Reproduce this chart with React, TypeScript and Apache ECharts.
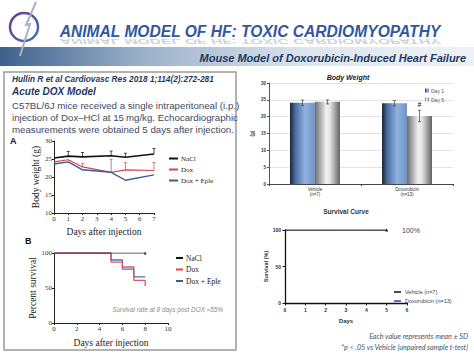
import React, { useEffect, useRef } from "react";
import * as echarts from "echarts";

// Panel A – body weight after injection
const weightDays = [0, 1, 2, 4, 5, 7];
const naclWeight = [25.3, 25.8, 25.6, 25.9, 25.5, 26.4];
const naclWeightErr = [0, 1.3, 1.2, 1.3, 1.1, 1.5];
const doxWeight = [24.2, 24.8, 22.8, 21.3, 22.0, 21.8];
const doxWeightErr = [0, 0, 0.9, 3.6, 2.0, 2.2];
const eplWeight = [23.6, 24.2, 22.0, 21.3, 19.1, 20.6];

// Panel B – percent survival
const survDays = [0, 5, 6, 7, 8];
const naclSurvDays = [0, 8];
const naclSurv = [100, 100];
const doxSurv = [100, 87, 80, 61, 53];
const eplSurv = [100, 90, 77, 66, 66];

// Body weight bar chart
const bwGroups = ["Vehicle\n(n=7)", "Doxorubicin\n(n=13)"];
const bwDay1 = [24.1, 24.0];
const bwDay1Err = [0.8, 0.8];
const bwDay5 = [24.4, 20.2];
const bwDay5Err = [0.6, 1.7];
const bwDay5Sig = ["", "#"];

// Survival curve
const curveDays = [0, 5];
const vehicleSurv = [100, 100];
const doxoSurv = [100, 100];

const legendA = ["NaCl", "Dox", "Dox + Eple"];
const legendBar = ["Day 1", "Day 5"];
const legendCurve = ["Vehicle (n=7)", "Doxorubicin (n=13)"];

const SERIF = "Liberation Serif";
const SANS = "Liberation Sans";
const BAR_W = 25;
const NAVY = "#1f3864";
const TITLE = "ANIMAL MODEL OF HF: TOXIC CARDIOMYOPATHY";

function zip(xs: number[], ys: number[]) {
  return xs.map((x, i) => [x, ys[i]]);
}

function errRenderer(color: string, upOnly: boolean, offset: number, marks?: string[]) {
  return (params: any, api: any) => {
    const x = api.value(0);
    const y = api.value(1);
    const e = api.value(2);
    if (!e) return null;
    const top = api.coord([x, y + e]);
    const bot = api.coord([x, upOnly ? y : y - e]);
    const dx = offset;
    const children: any[] = [
      { type: "line", shape: { x1: top[0] + dx, y1: top[1], x2: bot[0] + dx, y2: bot[1] }, style: { stroke: color, lineWidth: 0.8 } },
      { type: "line", shape: { x1: top[0] + dx - 1.5, y1: top[1], x2: top[0] + dx + 1.5, y2: top[1] }, style: { stroke: color, lineWidth: 0.8 } },
    ];
    if (!upOnly) {
      children.push({ type: "line", shape: { x1: bot[0] + dx - 1.5, y1: bot[1], x2: bot[0] + dx + 1.5, y2: bot[1] }, style: { stroke: color, lineWidth: 0.8 } });
    }
    const m = marks ? marks[params.dataIndex] : "";
    if (m) {
      children.push({
        type: "text",
        style: { text: m, x: top[0] + dx, y: top[1] - 2, textAlign: "center", textVerticalAlign: "bottom", fontSize: 7, fontWeight: "bold", fill: "#333", fontFamily: SANS },
      });
    }
    return { type: "group", children };
  };
}

export default function App() {
  const ref = useRef<HTMLDivElement>(null);
  useEffect(() => {
    if (!ref.current) return;
    const chart = echarts.init(ref.current, undefined, { renderer: "svg" });

    const blueBar = new echarts.graphic.LinearGradient(0, 0, 1, 0, [
      { offset: 0, color: "#1a2638" },
      { offset: 0.22, color: "#4b6fa3" },
      { offset: 0.6, color: "#8fb2e0" },
      { offset: 1, color: "#6f93c5" },
    ]);
    const grayBar = new echarts.graphic.LinearGradient(0, 0, 1, 0, [
      { offset: 0, color: "#6d6d6d" },
      { offset: 0.45, color: "#f2f2f2" },
      { offset: 0.6, color: "#e4e4e4" },
      { offset: 1, color: "#646464" },
    ]);

    const smallAxis = (extra: any = {}) => ({
      axisLine: { show: true, lineStyle: { color: "#222", width: 1 } },
      axisTick: { show: true, length: 2, lineStyle: { color: "#222" } },
      splitLine: { show: false },
      ...extra,
    });

    const g = (left: number, top: number, width: number, height: number) => ({
      left,
      top,
      width,
      height,
      containLabel: false,
    });

    const option: any = {
      animation: false,
      backgroundColor: "#ffffff",
      graphic: [
        // header band
        {
          type: "rect",
          shape: { x: 0, y: 47, width: 474, height: 19 },
          style: {
            fill: new echarts.graphic.LinearGradient(0, 0, 1, 0, [
              { offset: 0, color: "#3d618d" },
              { offset: 0.3, color: "#9bb1ca" },
              { offset: 0.65, color: "#dde5ee" },
              { offset: 1, color: "#eef2f6" },
            ]),
          },
          z: -10,
        },
        // logo
        {
          type: "ellipse",
          shape: { cx: 24, cy: 27, rx: 14, ry: 14 },
          style: {
            fill: "none",
            lineWidth: 2.5,
            stroke: new echarts.graphic.LinearGradient(0, 0, 1, 1, [
              { offset: 0, color: "#6a3a8f" },
              { offset: 1, color: "#3f74c2" },
            ]),
          },
        },
        {
          type: "polyline",
          shape: { points: [[36, 2], [26, 25], [30, 24], [20, 56]] },
          style: { stroke: "#a9b3bd", lineWidth: 2, fill: "none" },
        },
        // title + reflection
        {
          type: "text",
          x: 250,
          y: 31,
          style: {
            text: TITLE,
            textAlign: "center",
            textVerticalAlign: "middle",
            fontFamily: SANS,
            fontStyle: "italic",
            fontWeight: "bold",
            fontSize: 15.6,
            fill: "#3157a0",
          },
        },
        {
          type: "text",
          x: 250,
          y: 38,
          scaleY: -0.5,
          style: {
            text: TITLE,
            textAlign: "center",
            textVerticalAlign: "bottom",
            fontFamily: SANS,
            fontStyle: "italic",
            fontWeight: "bold",
            fontSize: 15.6,
            fill: "#aab4c2",
            opacity: 0.6,
          },
        },
        {
          type: "text",
          x: 466,
          y: 58,
          style: {
            text: "Mouse Model of Doxorubicin-Induced Heart Failure",
            textAlign: "right",
            textVerticalAlign: "middle",
            fontFamily: SANS,
            fontStyle: "italic",
            fontWeight: "bold",
            fontSize: 11,
            fill: NAVY,
          },
        },
        // left box
        {
          type: "rect",
          shape: { x: 4, y: 72, width: 232, height: 278 },
          style: { fill: "none", stroke: "#9a9a9a", lineWidth: 1.5 },
        },
        {
          type: "text",
          x: 12,
          y: 79,
          style: { text: "Hullin R et al Cardiovasc Res 2018 1;114(2):272-281", textVerticalAlign: "middle", fontFamily: SANS, fontStyle: "italic", fontWeight: "bold", fontSize: 8.3, fill: NAVY },
        },
        {
          type: "text",
          x: 12,
          y: 91,
          style: { text: "Acute DOX Model", textVerticalAlign: "middle", fontFamily: SANS, fontStyle: "italic", fontWeight: "bold", fontSize: 10, fill: NAVY },
        },
        {
          type: "text",
          x: 12,
          y: 99,
          style: {
            text: "C57BL/6J mice received a single intraperitoneal (i.p.)\ninjection of Dox\u2013HCl at 15\u202Fmg/kg. Echocardiographic\nmeasurements were obtained 5 days after injection.",
            textVerticalAlign: "top",
            fontFamily: SANS,
            fontSize: 9.7,
            lineHeight: 12,
            fill: "#3f4a5e",
          },
        },
        { type: "text", x: 10, y: 141, style: { text: "A", textVerticalAlign: "middle", fontFamily: SANS, fontWeight: "bold", fontSize: 9, fill: "#111" } },
        { type: "text", x: 25, y: 241, style: { text: "B", textVerticalAlign: "middle", fontFamily: SANS, fontWeight: "bold", fontSize: 9, fill: "#111" } },
        {
          type: "text",
          x: 223,
          y: 309,
          style: { text: "Survival rate at 8 days post DOX \u224855%", textAlign: "right", textVerticalAlign: "middle", fontFamily: SANS, fontStyle: "italic", fontSize: 6.4, fill: "#8a8a8a" },
        },
        { type: "text", x: 348, y: 77, style: { text: "Body Weight", textAlign: "center", textVerticalAlign: "middle", fontFamily: SANS, fontStyle: "italic", fontWeight: "bold", fontSize: 7, fill: "#222" } },
        { type: "text", x: 346, y: 211, style: { text: "Survival Curve", textAlign: "center", textVerticalAlign: "middle", fontFamily: SANS, fontWeight: "bold", fontSize: 6.5, fill: "#333" } },
        { type: "text", x: 402, y: 230, style: { text: "100%", textVerticalAlign: "middle", fontFamily: SANS, fontSize: 7, fill: "#444" } },
        {
          type: "text",
          x: 468,
          y: 336,
          style: { text: "Each value represents mean \u00B1 SD", textAlign: "right", textVerticalAlign: "middle", fontFamily: "Lato", fontStyle: "italic", fontSize: 7.2, fill: "#44546a" },
        },
        {
          type: "text",
          x: 468,
          y: 347,
          style: { text: "*p < .05 vs Vehicle (unpaired sample t-test)", textAlign: "right", textVerticalAlign: "middle", fontFamily: "Lato", fontStyle: "italic", fontSize: 7.2, fill: "#44546a" },
        },
      ],
      legend: [
        { data: legendA, orient: "vertical", left: 164, top: 150, itemWidth: 9, itemHeight: 2, itemGap: 4, icon: "rect", selectedMode: false, textStyle: { fontFamily: SERIF, fontSize: 7, color: "#222", padding: [0, 0, 0, -2] } },
        { data: legendA, orient: "vertical", left: 171, top: 249, itemWidth: 7, itemHeight: 2, itemGap: 3.5, icon: "rect", selectedMode: false, textStyle: { fontFamily: SERIF, fontSize: 7.5, color: "#222", padding: [0, 0, 0, -2] } },
        { data: legendBar, orient: "vertical", left: 420, top: 83, itemWidth: 4, itemHeight: 4, itemGap: 4, icon: "rect", selectedMode: false, textStyle: { fontFamily: SANS, fontSize: 5, color: "#555", padding: [0, 0, 0, -3] } },
        { data: legendCurve, orient: "vertical", left: 389, top: 284, itemWidth: 7, itemHeight: 1.5, itemGap: 3, icon: "rect", selectedMode: false, textStyle: { fontFamily: SANS, fontSize: 5.5, color: "#444", padding: [0, 0, 0, -1] } },
      ],
      grid: [g(54, 141, 100, 72), g(54, 253, 114, 70), g(269, 83, 184, 101), g(285, 230, 122, 73)],
      xAxis: [
        smallAxis({ gridIndex: 0, type: "value", min: 0, max: 7, interval: 1, axisLabel: { fontFamily: SERIF, fontSize: 7, color: "#333", margin: 2 }, name: "Days after injection", nameLocation: "middle", nameGap: 14, nameTextStyle: { fontFamily: SERIF, fontSize: 9.5, color: "#222" } }),
        smallAxis({ gridIndex: 1, type: "value", min: 0, max: 10, interval: 2, axisLabel: { fontFamily: SERIF, fontSize: 7, color: "#333", margin: 2 }, name: "Days after injection", nameLocation: "middle", nameGap: 15, nameTextStyle: { fontFamily: SERIF, fontSize: 9.5, color: "#222" } }),
        { gridIndex: 2, type: "category", data: bwGroups, axisLine: { lineStyle: { color: "#444" } }, axisTick: { show: true, length: 2, lineStyle: { color: "#444" } }, axisLabel: { fontFamily: SANS, fontSize: 4.5, color: "#333", margin: 3, lineHeight: 5 } },
        { gridIndex: 3, type: "value", min: 0, max: 6, interval: 1, axisLine: { lineStyle: { color: "#111", width: 1.3 } }, axisTick: { show: true, length: 2.5, lineStyle: { color: "#111" } }, splitLine: { show: false }, axisLabel: { fontFamily: SANS, fontWeight: "bold", fontSize: 5, color: "#333", margin: 4 }, name: "Days", nameLocation: "middle", nameGap: 15, nameTextStyle: { fontFamily: SANS, fontWeight: "bold", fontSize: 6, color: "#333" } },
      ],
      yAxis: [
        smallAxis({ gridIndex: 0, type: "value", min: 10, max: 30, interval: 5, axisLabel: { fontFamily: SERIF, fontSize: 7, color: "#333", margin: 2 }, name: "Body weight (g)", nameLocation: "middle", nameGap: 12, nameRotate: 90, nameTextStyle: { fontFamily: SERIF, fontSize: 9.5, color: "#222" } }),
        smallAxis({ gridIndex: 1, type: "value", min: 0, max: 100, interval: 50, axisLabel: { fontFamily: SERIF, fontSize: 7, color: "#333", margin: 2 }, name: "Percent survival", nameLocation: "middle", nameGap: 16, nameRotate: 90, nameTextStyle: { fontFamily: SERIF, fontSize: 9.5, color: "#222" } }),
        { gridIndex: 2, type: "value", min: 0, max: 30, interval: 5, axisLine: { show: true, lineStyle: { color: "#555" } }, axisTick: { show: true, length: 2, lineStyle: { color: "#555" } }, splitLine: { show: true, lineStyle: { color: "#dcdcdc", width: 0.8 } }, axisLabel: { fontFamily: SANS, fontWeight: "bold", fontSize: 4.5, color: "#333", margin: 3 }, name: "(g)", nameLocation: "middle", nameGap: 14, nameRotate: 90, nameTextStyle: { fontFamily: SANS, fontWeight: "bold", fontSize: 4.5, color: "#333" } },
        { gridIndex: 3, type: "value", min: 0, max: 100, interval: 50, axisLine: { show: true, lineStyle: { color: "#111", width: 1.3 } }, axisTick: { show: true, length: 2.5, lineStyle: { color: "#111" } }, splitLine: { show: false }, axisLabel: { fontFamily: SANS, fontWeight: "bold", fontSize: 5, color: "#333", margin: 4 }, name: "Survival (%)", nameLocation: "middle", nameGap: 14, nameRotate: 90, nameTextStyle: { fontFamily: SANS, fontWeight: "bold", fontSize: 5.5, color: "#333" } },
      ],
      series: [
        { name: "NaCl", type: "line", xAxisIndex: 0, yAxisIndex: 0, data: zip(weightDays, naclWeight), symbol: "none", color: "#111", lineStyle: { width: 1.6 } },
        { name: "Dox", type: "line", xAxisIndex: 0, yAxisIndex: 0, data: zip(weightDays, doxWeight), symbol: "none", color: "#d9434b", lineStyle: { width: 1.2 } },
        { name: "Dox + Eple", type: "line", xAxisIndex: 0, yAxisIndex: 0, data: zip(weightDays, eplWeight), symbol: "none", color: "#3a5a9c", lineStyle: { width: 1.4 } },
        { name: "NaCl err", type: "custom", xAxisIndex: 0, yAxisIndex: 0, data: weightDays.map((d, i) => [d, naclWeight[i], naclWeightErr[i]]), renderItem: errRenderer("#222", true, 0), z: 3 },
        { name: "Dox err", type: "custom", xAxisIndex: 0, yAxisIndex: 0, data: weightDays.map((d, i) => [d, doxWeight[i], doxWeightErr[i]]), renderItem: errRenderer("#c25a5f", true, 0), z: 3 },
        { name: "Dox + Eple", type: "line", xAxisIndex: 1, yAxisIndex: 1, step: "end", data: zip(survDays, eplSurv), symbol: "none", color: "#4a6fb0", lineStyle: { width: 1.3 } },
        { name: "Dox", type: "line", xAxisIndex: 1, yAxisIndex: 1, step: "end", data: zip(survDays, doxSurv), symbol: "none", color: "#e0555e", lineStyle: { width: 1.3 } },
        { name: "NaCl", type: "line", xAxisIndex: 1, yAxisIndex: 1, data: zip(naclSurvDays, naclSurv).map((v, i) => (i === 0 ? { value: v, symbol: "none" } : { value: v })), symbol: "triangle", symbolSize: 3, color: "#333", lineStyle: { width: 1.2 } },
        { name: "Day 1", type: "bar", xAxisIndex: 2, yAxisIndex: 2, data: bwDay1, barWidth: BAR_W, barGap: "0%", itemStyle: { color: blueBar } },
        { name: "Day 5", type: "bar", xAxisIndex: 2, yAxisIndex: 2, data: bwDay5, barWidth: BAR_W, barGap: "0%", itemStyle: { color: grayBar } },
        { name: "Day 1 err", type: "custom", xAxisIndex: 2, yAxisIndex: 2, data: bwDay1.map((v, i) => [i, v, bwDay1Err[i]]), renderItem: errRenderer("#555", false, -BAR_W / 2), z: 5 },
        { name: "Day 5 err", type: "custom", xAxisIndex: 2, yAxisIndex: 2, data: bwDay5.map((v, i) => [i, v, bwDay5Err[i]]), renderItem: errRenderer("#555", false, BAR_W / 2, bwDay5Sig), z: 5 },
        { name: "Doxorubicin (n=13)", type: "line", xAxisIndex: 3, yAxisIndex: 3, data: zip(curveDays, doxoSurv), symbol: "none", color: "#3b3f9a", lineStyle: { width: 1.2 } },
        { name: "Vehicle (n=7)", type: "line", xAxisIndex: 3, yAxisIndex: 3, data: zip(curveDays, vehicleSurv).map((v, i) => (i === 0 ? { value: v, symbol: "none" } : { value: v })), symbol: "triangle", symbolSize: 3, color: "#111", lineStyle: { width: 1.2 } },
      ],
    };
    chart.setOption(option);
    return () => chart.dispose();
  }, []);

  return (
    <div
      ref={ref}
      style={{ position: "absolute", left: 0, top: 0, width: 474, height: 355, background: "#fff" }}
    />
  );
}
